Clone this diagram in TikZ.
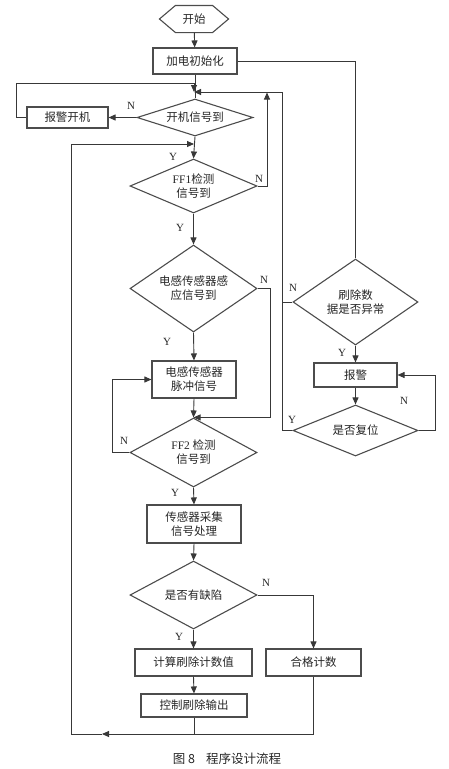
\documentclass[tikz,border=0pt]{standalone}
\usepackage{fontspec}
\setmainfont{Liberation Serif}
\newfontfamily\cjk{Noto Sans CJK SC}
\usetikzlibrary{shapes.geometric,arrows.meta}
\begin{document}
\begin{tikzpicture}[x=1pt,y=-1pt,
  line/.style={draw=black!78,line width=0.9pt},
  arr/.style={line,-{Triangle[length=7pt,width=6pt]}},
  box/.style={draw=black!70,line width=1.1pt,rectangle,inner sep=0pt,align=center,
     font=\cjk\fontsize{11.5}{14}\selectfont,text=black!85},
  dec/.style={box,diamond},
  yn/.style={font=\fontsize{11}{12}\selectfont,text=black!85,inner sep=0pt}]
\useasboundingbox (0,0) rectangle (448,769);

% start hexagon
\node[box,draw=none,minimum width=68pt,minimum height=26pt] (start) at (194,19) {开始};
\draw[draw=black!70,line width=1.1pt] (start.west) -- ([xshift=16pt]start.north west) -- ([xshift=-16pt]start.north east)
  -- (start.east) -- ([xshift=-16pt]start.south east) -- ([xshift=16pt]start.south west) -- cycle;

\node[box,minimum width=84pt,minimum height=26pt] (init) at (195,61) {加电初始化};
\node[box,minimum width=81pt,minimum height=21pt] (alarmOn) at (67.5,117.5) {报警开机};
\node[dec,aspect=3.1,minimum width=116pt,minimum height=37pt] (d1) at (195,117.5) {开机信号到};
\node[dec,aspect=2.35,minimum width=127pt,minimum height=54pt] (ff1) at (193.5,186) {{\rmfamily FF1}检测\\信号到};
\node[dec,aspect=1.46,minimum width=127pt,minimum height=87pt] (ind) at (193.5,288.5) {电感传感器感\\应信号到};
\node[box,minimum width=84pt,minimum height=37pt] (pulse) at (194,379.5) {电感传感器\\脉冲信号};
\node[dec,aspect=1.84,minimum width=127pt,minimum height=69pt] (ff2) at (193.5,452.5) {{\rmfamily FF2} 检测\\信号到};
\node[box,minimum width=94pt,minimum height=38pt] (proc) at (194,524) {传感器采集\\信号处理};
\node[dec,aspect=1.87,minimum width=127pt,minimum height=68pt] (defect) at (193.5,595) {是否有缺陷};
\node[box,minimum width=117pt,minimum height=27pt] (calc) at (193.5,662.5) {计算刷除计数值};
\node[box,minimum width=95pt,minimum height=27pt] (ok) at (313.5,662.5) {合格计数};
\node[box,minimum width=106pt,minimum height=23pt] (ctrl) at (194,705.5) {控制刷除输出};
\node[dec,aspect=1.45,minimum width=125pt,minimum height=86pt] (rm) at (355.5,302) {刷除数\\据是否异常};
\node[box,minimum width=83pt,minimum height=24pt] (alarm) at (355.5,375) {报警};
\node[dec,aspect=2.45,minimum width=125pt,minimum height=51pt] (reset) at (355.5,430.5) {是否复位};

% helper coordinates
\coordinate (j1) at (194,83);
\coordinate (j2) at (194,92);
\coordinate (j3) at (194,144);
\coordinate (up) at (267,92.5);
\coordinate (b1) at (102,734);
\coordinate (bl) at (71,734);
\coordinate (bm) at (194,734);

% main flow
\draw[arr] (start) -- (init);
\draw[line] (init.south) -- (d1.north);
\draw[arr] (j1) -- (j2);
\draw[arr] (d1.west) -- (alarmOn.east);
\draw[line] (alarmOn.west) -- ++(-10,0) |- (j1);
\draw[arr] (d1.south) -- (ff1.north);
\draw[arr] (ff1.east) -| (up);
\draw[arr] (ff1.south) -- (ind.north);
\draw[arr] (ind.south) -- (pulse.north);
\draw[arr] (ind.east) -- ++(13,0) |- (ff2.north);
\draw[arr] (pulse.south) -- (ff2.north);
\draw[arr] (ff2.west) -- ++(-17,0) |- (pulse.west);
\draw[arr] (ff2.south) -- (proc.north);
\draw[arr] (proc.south) -- (defect.north);
\draw[arr] (defect.south) -- (calc.north);
\draw[arr] (defect.east) -| (ok.north);
\draw[arr] (calc.south) -- (ctrl.north);
\draw[line] (ctrl.south) -- (bm);
\draw[arr] (ok.south) |- (b1);
\draw[arr] (b1) -- (bl) |- (j3);

% right branch
\draw[line] (init.east) -| (rm.north);
\draw[line] (rm.west) -- ++(-10,0);
\draw[arr] (rm.south) -- (alarm.north);
\draw[arr] (alarm.south) -- (reset.north);
\draw[arr] (reset.east) -- ++(17,0) |- (alarm.east);
\draw[arr] (reset.west) -- ++(-10,0) |- (j2);

% labels
\node[yn] (l1) at (131,106) {N};
\node[yn] (l2) at (173,157) {Y};
\node[yn] (l3) at (259,179) {N};
\node[yn] (l4) at (180,228) {Y};
\node[yn] (l5) at (264,280) {N};
\node[yn] (l6) at (167,342) {Y};
\node[yn] (l7) at (124,441) {N};
\node[yn] (l8) at (175,493) {Y};
\node[yn] (l9) at (266,583) {N};
\node[yn] (l10) at (179,637) {Y};
\node[yn] (l11) at (293,288) {N};
\node[yn] (l12) at (342,353) {Y};
\node[yn] (l13) at (404,401) {N};
\node[yn] (l14) at (292,420) {Y};

% caption
\node[font=\cjk\fontsize{12.5}{14}\selectfont,text=black!85] (cap) at (227,759) {图 8\hspace{0.9em}程序设计流程};
\end{tikzpicture}
\end{document}
